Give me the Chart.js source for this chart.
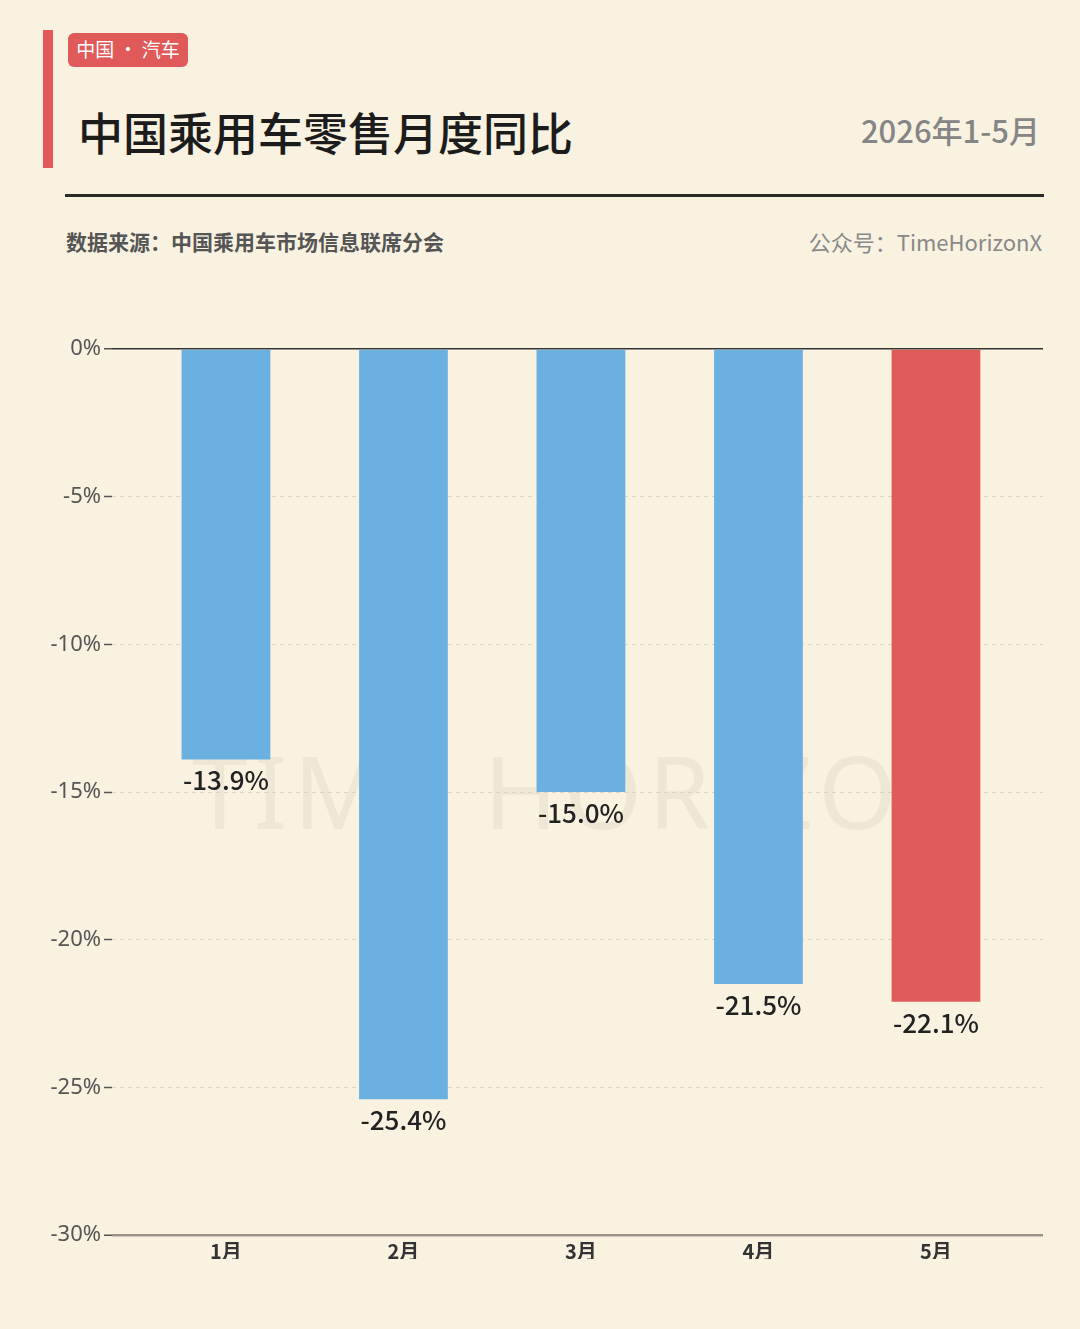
<!DOCTYPE html>
<html>
<head>
<meta charset="utf-8">
<script src="https://cdn.jsdelivr.net/npm/chart.js@4.4.1/dist/chart.umd.min.js"></script>
<style>
  html, body { margin: 0; padding: 0; }
  body {
    width: 1080px; height: 1329px; position: relative; overflow: hidden;
    background: #f9f2e1;
    font-family: "Noto Sans CJK SC", "Noto Sans", sans-serif;
  }
  .bar { position: absolute; left: 43px; top: 30px; width: 10px; height: 138px; background: #e05a5a; }
  .tag {
    position: absolute; left: 68px; top: 33px; height: 34px; width: 120px; text-align: center;
    background: #e05a5a; color: #fff; border-radius: 6px;
    font-size: 19px; line-height: 32px;
  }
  .title { position: absolute; left: 78px; top: 100px; font-size: 45px; font-weight: 500; color: #1c1c1c; line-height: 64px; }
  .period { position: absolute; right: 40px; top: 106px; font-size: 31px; font-weight: 500; color: #858585; line-height: 48px; }
  .rule { position: absolute; left: 65px; top: 194px; width: 979px; height: 3px; background: #2a2a2a; }
  .source { position: absolute; left: 66px; top: 226px; font-size: 21px; font-weight: 700; color: #555; line-height: 30px; }
  .account { position: absolute; right: 38px; top: 226px; font-size: 22px; color: #888; line-height: 30px; }
  .mark {
    position: absolute; left: 192px; top: 735px; font-size: 100px; color: rgba(120,100,70,0.07);
    font-family: "Noto Sans", sans-serif; letter-spacing: 6px; line-height: 110px;
  }
  .wrap { position: absolute; left: 0; top: 320px; width: 1080px; height: 939px; }
</style>
</head>
<body>
<div class="bar"></div>
<div class="tag">中国 · 汽车</div>
<div class="title">中国乘用车零售月度同比</div>
<div class="period">2026年1-5月</div>
<div class="rule"></div>
<div class="source">数据来源：中国乘用车市场信息联席分会</div>
<div class="account">公众号：TimeHorizonX</div>
<div class="mark">TIME HORIZON</div>
<div class="wrap"><canvas id="chart"></canvas></div>
<script>
const months = ["1月", "2月", "3月", "4月", "5月"];
const yoy = [-13.9, -25.4, -15.0, -21.5, -22.1];
const barColors = ["#6ab0e0", "#6ab0e0", "#6ab0e0", "#6ab0e0", "#e05c5b"];
const yTicks = [0, -5, -10, -15, -20, -25, -30];

const points = yoy.map((v, i) => ({ x: i + 1, y: v }));

const valueLabels = {
  id: "valueLabels",
  afterDatasetsDraw(chart) {
    const ctx = chart.ctx;
    const meta = chart.getDatasetMeta(0);
    ctx.save();
    ctx.font = '500 26px "Noto Sans CJK SC", "Noto Sans", sans-serif';
    ctx.fillStyle = "#222";
    ctx.textAlign = "center";
    ctx.textBaseline = "middle";
    meta.data.forEach((bar, i) => {
      ctx.fillText(yoy[i].toFixed(1) + "%", bar.x, bar.y + 21);
    });
    ctx.restore();
  }
};

new Chart(document.getElementById("chart"), {
  type: "bar",
  data: {
    datasets: [{
      data: points,
      backgroundColor: barColors,
      barPercentage: 0.5,
      categoryPercentage: 1.0,
    }]
  },
  plugins: [valueLabels],
  options: {
    responsive: true,
    maintainAspectRatio: false,
    animation: false,
    layout: { padding: { top: 29, right: 37, left: 0, bottom: 0 } },
    plugins: { legend: { display: false }, tooltip: { enabled: false } },
    scales: {
      x: {
        type: "linear",
        offset: false,
        min: 0.358,
        max: 5.603,
        afterBuildTicks: (scale) => { scale.ticks = months.map((m, i) => ({ value: i + 1 })); },
        ticks: {
          callback: (v) => months[v - 1],
          color: "#333",
          font: { size: 20, weight: "bold", family: '"Noto Sans CJK SC", sans-serif' },
          padding: -4,
          maxRotation: 0,
        },
        grid: { display: false },
        border: { display: false },
      },
      y: {
        min: -30,
        max: 0,
        afterBuildTicks: (scale) => { scale.ticks = yTicks.map(v => ({ value: v })); },
        afterFit: (scale) => { scale.width = 112; },
        ticks: {
          callback: (v) => v + "%",
          color: "#555",
          font: { size: 22, family: '"Noto Sans", sans-serif' },
          padding: 3,
        },
        grid: {
          color: (c) => c.tick.value === 0 ? "#333" : (c.tick.value === -30 ? "#9a9189" : "#ddd3c2"),
          lineWidth: (c) => c.tick.value === -30 ? 2.5 : (c.tick.value === 0 ? 1.5 : 1),
          tickColor: "#555",
          tickLength: 8,
          tickWidth: 1.5,
        },
        border: {
          display: false,
          dash: (c) => (c.tick && (c.tick.value === 0 || c.tick.value === -30)) ? [] : [4, 4],
        },
      }
    }
  }
});
</script>
</body>
</html>
